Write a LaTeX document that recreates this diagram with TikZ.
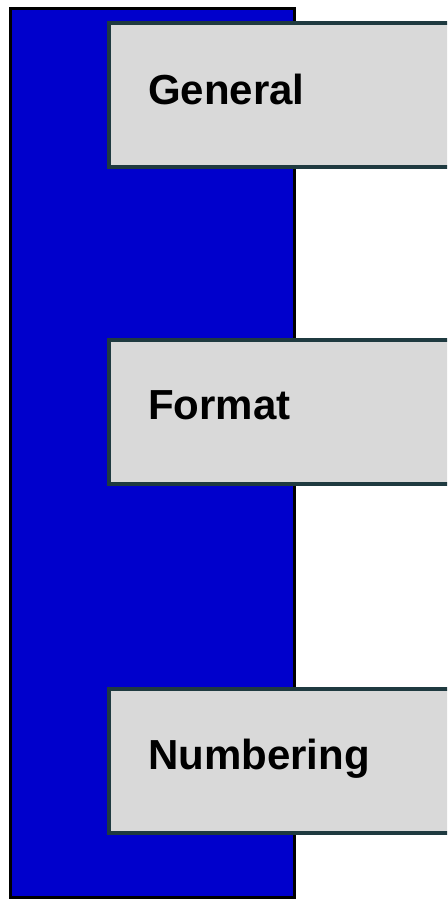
\documentclass[tikz,border=0pt]{standalone}
\usepackage{fontspec}
\setmainfont{Liberation Sans}
\definecolor{barblue}{RGB}{0,0,204}
\definecolor{boxgray}{RGB}{217,217,217}
\definecolor{boxedge}{RGB}{31,58,64}
\tikzset{
  bar/.style={draw=black, fill=barblue, line width=3pt},
  tab/.style={draw=boxedge, fill=boxgray, line width=4pt, rectangle, anchor=north west,
    minimum width=360pt, minimum height=144pt, inner sep=0pt, outer sep=0pt},
  tablabel/.style={anchor=base west, inner sep=0pt, font=\bfseries\fontsize{42}{50}\selectfont, text=black}
}
\begin{document}
\begin{tikzpicture}[x=1pt,y=1pt]
\useasboundingbox (0,0) rectangle (447,899);
\begin{scope}
\clip (0,0) rectangle (447,899);
\draw[bar] (10.5,1.5) rectangle (294.5,890.5);
\node[tab] (general) at (109,876) {};
\node[tab] (format) at (109,559) {};
\node[tab] (numbering) at (109,210) {};
\node[tablabel] (lgeneral) at (148,794) {General};
\node[tablabel] (lformat) at (148,479) {Format};
\node[tablabel] (lnumbering) at (148,129) {Numbering};
\end{scope}
\end{tikzpicture}
\end{document}
